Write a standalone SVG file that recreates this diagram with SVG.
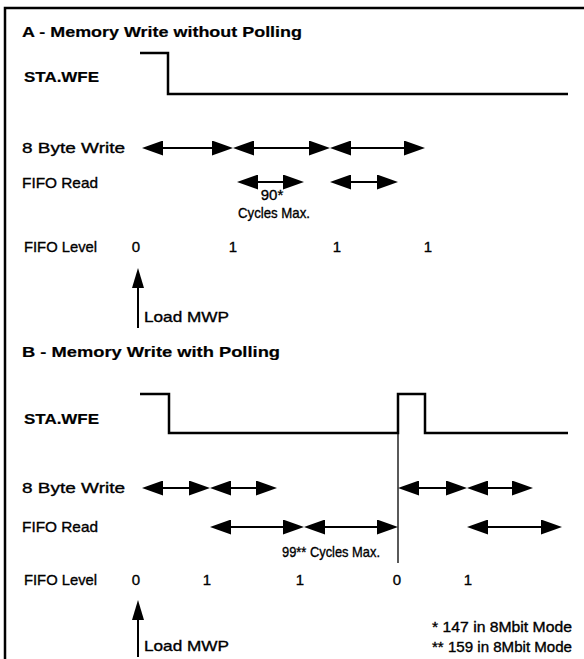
<svg xmlns="http://www.w3.org/2000/svg" width="584" height="659" viewBox="0 0 584 659">
<style>
.t{font-family:"Liberation Sans",Arial,Helvetica,sans-serif;fill:#000;font-size:15px;stroke:#000;stroke-width:0.35}
.b{font-weight:bold;stroke-width:0.2}
.m{text-anchor:middle}
.sig{fill:none;stroke:#000;stroke-width:2.5}
.arr{stroke:#000;stroke-width:2;marker-start:url(#ah);marker-end:url(#ah)}
.frame{stroke:#000;stroke-width:2.5;fill:none}
</style>
<defs>
<marker id="ah" markerUnits="userSpaceOnUse" markerWidth="21" markerHeight="15" refX="16" refY="7.5" orient="auto-start-reverse" viewBox="0 0 21 15"><path d="M0,0 L21,7.5 L0,15 z" fill="#000"/></marker>
<marker id="up" markerUnits="userSpaceOnUse" markerWidth="12" markerHeight="20" refX="6" refY="15" orient="0" viewBox="0 0 12 20"><path d="M6,0 L12,20 L0,20 z" fill="#000"/></marker>
</defs>
<g id="frame"><path class="frame" d="M5,659 V8 H584"/></g>
<g id="sectionA">
<text class="t b" x="22" y="37" font-size="16" textLength="280" lengthAdjust="spacingAndGlyphs">A - Memory Write without Polling</text>
<text class="t b" x="24" y="82" font-size="16" textLength="75" lengthAdjust="spacingAndGlyphs">STA.WFE</text>
<text class="t" x="22" y="153" textLength="103" lengthAdjust="spacingAndGlyphs">8 Byte Write</text>
<text class="t" x="22" y="188" textLength="76" lengthAdjust="spacingAndGlyphs">FIFO Read</text>
<text class="t" x="24" y="252" textLength="73" lengthAdjust="spacingAndGlyphs">FIFO Level</text>
<text class="t m" x="272" y="200" font-size="14">90*</text>
<text class="t m" x="274" y="218" font-size="14" textLength="72" lengthAdjust="spacingAndGlyphs">Cycles Max.</text>
<text class="t m" x="136" y="252">0</text>
<text class="t m" x="233" y="252">1</text>
<text class="t m" x="337" y="252">1</text>
<text class="t m" x="428" y="252">1</text>
<text class="t" x="144" y="322" textLength="85" lengthAdjust="spacingAndGlyphs">Load MWP</text>
</g>
<g id="sectionB">
<text class="t b" x="22" y="357" font-size="16" textLength="258" lengthAdjust="spacingAndGlyphs">B - Memory Write with Polling</text>
<text class="t b" x="24" y="424" font-size="16" textLength="75" lengthAdjust="spacingAndGlyphs">STA.WFE</text>
<text class="t" x="22" y="493" textLength="103" lengthAdjust="spacingAndGlyphs">8 Byte Write</text>
<text class="t" x="22" y="532" textLength="76" lengthAdjust="spacingAndGlyphs">FIFO Read</text>
<text class="t" x="24" y="585" textLength="73" lengthAdjust="spacingAndGlyphs">FIFO Level</text>
<text class="t" x="282" y="557" textLength="98" lengthAdjust="spacingAndGlyphs">99** Cycles Max.</text>
<text class="t m" x="136" y="585">0</text>
<text class="t m" x="207" y="585">1</text>
<text class="t m" x="300" y="585">1</text>
<text class="t m" x="397" y="585">0</text>
<text class="t m" x="468" y="585">1</text>
<text class="t" x="144" y="651" textLength="85" lengthAdjust="spacingAndGlyphs">Load MWP</text>
<text class="t" x="432" y="632" font-size="12" textLength="140" lengthAdjust="spacingAndGlyphs">* 147 in 8Mbit Mode</text>
<text class="t" x="432" y="652" font-size="12" textLength="140" lengthAdjust="spacingAndGlyphs">** 159 in 8Mbit Mode</text>
</g>
<g id="connectors">
<path class="sig" d="M140,53 H168 V94 H568"/>
<line class="arr" x1="147" y1="148" x2="228" y2="148"/>
<line class="arr" x1="238" y1="148" x2="325" y2="148"/>
<line class="arr" x1="335" y1="148" x2="420" y2="148"/>
<line class="arr" x1="242" y1="182" x2="299" y2="182"/>
<line class="arr" x1="335" y1="182" x2="393" y2="182"/>
<line stroke="#000" stroke-width="2" x1="138" y1="328" x2="138" y2="283" marker-end="url(#up)"/>
<path class="sig" d="M140,394 H169 V433 H398 V394 H425 V433 H568"/>
<line stroke="#000" stroke-width="1.3" x1="398" y1="433" x2="398" y2="563"/>
<line class="arr" x1="147" y1="488" x2="205" y2="488"/>
<line class="arr" x1="215" y1="488" x2="272" y2="488"/>
<line class="arr" x1="403" y1="488" x2="462" y2="488"/>
<line class="arr" x1="472" y1="488" x2="528" y2="488"/>
<line class="arr" x1="215" y1="527" x2="299" y2="527"/>
<line class="arr" x1="309" y1="527" x2="393" y2="527"/>
<line class="arr" x1="472" y1="527" x2="557" y2="527"/>
<line stroke="#000" stroke-width="2" x1="138" y1="657" x2="138" y2="615" marker-end="url(#up)"/>
</g>
</svg>
